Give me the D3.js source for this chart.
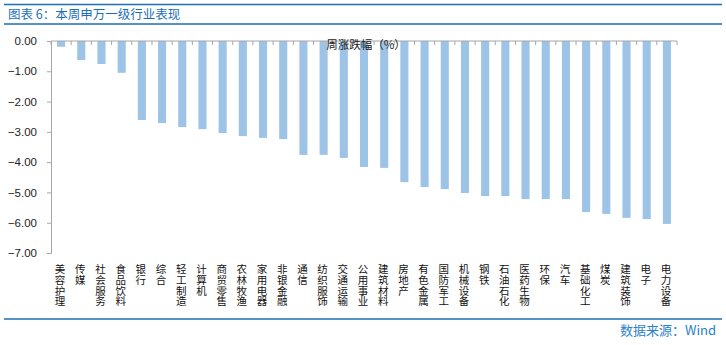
<!DOCTYPE html>
<html>
<head>
<meta charset="utf-8">
<script src="https://cdn.jsdelivr.net/npm/d3@7"></script>
<style>
  html, body { margin: 0; padding: 0; background: #fff; }
  svg { display: block; }
</style>
</head>
<body>
<svg id="chart" width="726" height="345"></svg>
<script>
// Weekly change (%) of Shenwan level-1 industries
const categories = [
  "美容护理", "传媒", "社会服务", "食品饮料", "银行", "综合", "轻工制造",
  "计算机", "商贸零售", "农林牧渔", "家用电器", "非银金融", "通信", "纺织服饰",
  "交通运输", "公用事业", "建筑材料", "房地产", "有色金属", "国防军工",
  "机械设备", "钢铁", "石油石化", "医药生物", "环保", "汽车", "基础化工",
  "煤炭", "建筑装饰", "电子", "电力设备"
];
const weeklyChange = [
  -0.19, -0.63, -0.76, -1.05, -2.61, -2.71, -2.84,
  -2.91, -3.04, -3.14, -3.20, -3.24, -3.76, -3.76,
  -3.86, -4.16, -4.19, -4.66, -4.82, -4.89,
  -5.02, -5.12, -5.12, -5.22, -5.22, -5.22, -5.65,
  -5.71, -5.84, -5.88, -6.04
];
const yTicks = [0, -1, -2, -3, -4, -5, -6, -7];
const seriesName = "周涨跌幅（%）";
const titleText = "图表 6：本周申万一级行业表现";
const sourceText = "数据来源：Wind";

const svg = d3.select("#chart");
const blue = "#1b6fb8";
const cjk = "'Noto Sans CJK SC', 'Noto Sans', sans-serif";

// Header rules and title
svg.append("line").attr("x1", 4).attr("x2", 722).attr("y1", 4.5).attr("y2", 4.5)
  .attr("stroke", blue).attr("stroke-width", 1.5);
svg.append("line").attr("x1", 4).attr("x2", 722).attr("y1", 24).attr("y2", 24)
  .attr("stroke", blue).attr("stroke-width", 1.5);
svg.append("text").attr("x", 8).attr("y", 19)
  .attr("font-family", cjk).attr("font-size", 12.5).attr("fill", blue)
  .text(titleText);

// Footer rule and source
svg.append("line").attr("x1", 4).attr("x2", 722).attr("y1", 319).attr("y2", 319)
  .attr("stroke", blue).attr("stroke-width", 1.5);
svg.append("text").attr("x", 716).attr("y", 335).attr("text-anchor", "end")
  .attr("font-family", cjk).attr("font-size", 13).attr("fill", "#2a7fc9")
  .text(sourceText);

const data = categories.map((c, i) => ({ name: c, value: weeklyChange[i] }));

const x = d3.scaleBand()
  .domain(data.map(d => d.name))
  .range([51, 677])
  .paddingInner(0.6)
  .paddingOuter(0.3);

const y = d3.scaleLinear().domain([-7, 0]).range([253, 41]);

// Y axis
const yAxis = d3.axisLeft(y)
  .tickValues(yTicks)
  .tickSize(4)
  .tickFormat(d3.format(".2f"));
const gy = svg.append("g").attr("transform", "translate(51,0)").call(yAxis);
gy.select(".domain").attr("stroke", "#a6a6a6");
gy.selectAll(".tick line").attr("stroke", "#a6a6a6");
gy.selectAll(".tick text")
  .attr("x", -14)
  .attr("font-family", "'Liberation Sans', Arial, sans-serif")
  .attr("font-size", 11.5).attr("fill", "#222");

// Bars
svg.append("g").selectAll("rect").data(data).join("rect")
  .attr("x", d => x(d.name))
  .attr("width", x.bandwidth())
  .attr("y", d => y(Math.max(0, d.value)))
  .attr("height", d => Math.abs(y(d.value) - y(0)))
  .attr("fill", "#9dc3e6");

// Category axis line at zero with ticks between categories
const step = x.step();
const x0 = x.range()[0];
svg.append("line").attr("x1", x0).attr("x2", x.range()[1])
  .attr("y1", y(0)).attr("y2", y(0)).attr("stroke", "#a6a6a6");
svg.append("g").selectAll("line").data(d3.range(data.length + 1)).join("line")
  .attr("x1", i => x0 + i * step).attr("x2", i => x0 + i * step)
  .attr("y1", y(0)).attr("y2", y(0) + 4)
  .attr("stroke", "#a6a6a6");

// Vertical category labels, one character per line
const lab = svg.append("g").selectAll("text").data(data).join("text")
  .attr("font-family", cjk).attr("font-size", 10.5).attr("fill", "#111")
  .attr("text-anchor", "middle");
lab.each(function(d) {
  const t = d3.select(this);
  const cx = x(d.name) + x.bandwidth() / 2 - 1;
  Array.from(d.name).forEach((ch, k) => {
    t.append("tspan").attr("x", cx).attr("y", 273 + k * 10.8).text(ch);
  });
});

// Series name
svg.append("text").attr("x", 366).attr("y", 49).attr("text-anchor", "middle")
  .attr("font-family", cjk).attr("font-size", 11.5).attr("fill", "#222")
  .text(seriesName);
</script>
</body>
</html>
